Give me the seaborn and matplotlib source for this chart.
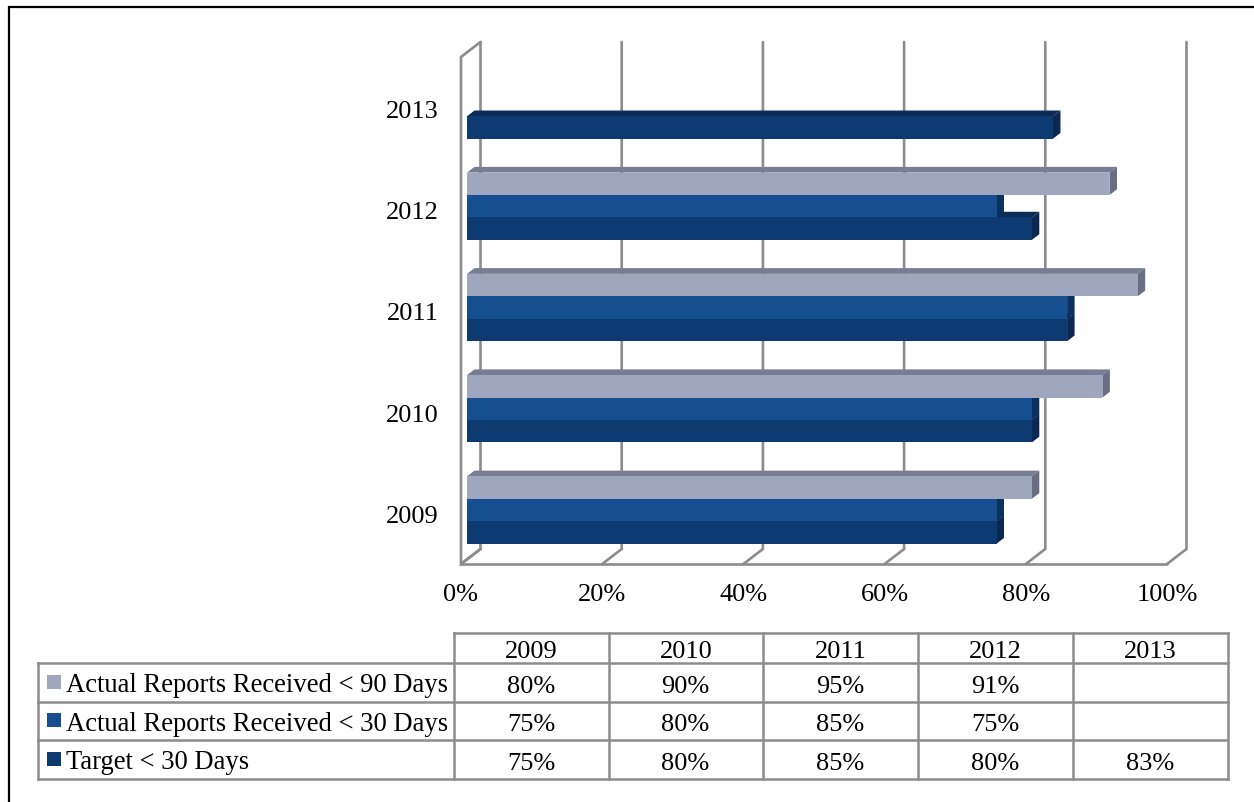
import matplotlib
matplotlib.use("Agg")
import matplotlib.pyplot as plt
from matplotlib.patches import Polygon, Rectangle
from matplotlib.transforms import ScaledTranslation
import numpy as np
import pandas as pd
import seaborn as sns

years = ["2009", "2010", "2011", "2012", "2013"]
series = ["Actual Reports Received < 90 Days", "Actual Reports Received < 30 Days", "Target < 30 Days"]
actual_90 = [80, 90, 95, 91, np.nan]
actual_30 = [75, 80, 85, 75, np.nan]
target_30 = [75, 80, 85, 80, 83]
xticks = [0, 20, 40, 60, 80, 100]

front = ["#9FA7BF", "#164F8F", "#0E3A72"]
top_face = ["#797D93", "#0F3766", "#0C2C57"]
side_face = ["#6A6E84", "#0D315E", "#0A2850"]
GREY = "#8C8C8C"

W, H = 1254, 803

sns.set_theme(style="white")
plt.rcParams["font.family"] = ["Liberation Serif", "DejaVu Serif"]
FS = 19
FS_LEGEND = 19.15

df = pd.DataFrame({"year": years * 3,
                   "series": np.repeat(series, 5),
                   "value": actual_90 + actual_30 + target_30}).dropna()

fig = plt.figure(figsize=(W / 100, H / 100), dpi=100)

# overlay in pixels for page border and the data table
page = fig.add_axes([0, 0, 1, 1], zorder=0)
page.set_xlim(0, W)
page.set_ylim(H, 0)
page.axis("off")

# chart axes: 0-100 from px 467 to 1173, plane from px 43 to 565
left, right, top, bottom = 467, 1173, 43, 565
ax = fig.add_axes([left / W, 1 - bottom / H, (right - left) / W, (bottom - top) / H], zorder=1)
ax.patch.set_alpha(0)

sns.barplot(data=df, x="value", y="year", hue="series", order=years[::-1], hue_order=series,
            palette=front, saturation=1, width=0.665, gap=0, orient="h",
            errorbar=None, legend=False, ax=ax)

unit = 101.25  # px per category
ax.set_xlim(0, 100)
ax.set_ylim(4 + (565 - 511) / unit, -(106 - 43) / unit)
sx = (right - left) / 100

# bars get a top and a side face, upper bars sit in front of the lower ones
dx, dy = 7.5 / sx, 5.7 / unit
for k, cont in enumerate(ax.containers):
    z = 7 - k
    for p in cont:
        if not np.isfinite(p.get_width()) or p.get_width() == 0:
            continue
        x1 = p.get_x() + p.get_width()
        y0, y1 = p.get_y(), p.get_y() + p.get_height()
        p.set_linewidth(0)
        p.set_zorder(z + 0.5)
        ax.add_patch(Polygon([(0, y0), (dx, y0 - dy), (x1 + dx, y0 - dy), (x1, y0)],
                             fc=top_face[k], ec="none", zorder=z, clip_on=False))
        ax.add_patch(Polygon([(x1, y0), (x1 + dx, y0 - dy), (x1 + dx, y1 - dy), (x1, y1)],
                             fc=side_face[k], ec="none", zorder=z, clip_on=False))

# back wall, floor and gridlines
back, fwd = 13.5 / sx, -6 / sx
wall = 15 / unit
y_top, y_bot = ax.get_ylim()[1], ax.get_ylim()[0]
line = dict(color=GREY, lw=1.9, clip_on=False, zorder=1, solid_joinstyle="miter")
for t in xticks:
    ax.plot([t + back, t + back, t + fwd], [y_top, y_bot - wall, y_bot], **line)
ax.plot([back, fwd, fwd, back], [y_top, y_top + wall, y_bot, y_bot - wall], **line)
ax.plot([fwd, 100 + fwd], [y_bot, y_bot], **line)
ax.set_xlim(0, 100)
ax.set_ylim(y_bot, y_top)

ax.grid(False)
sns.despine(ax=ax, left=True, bottom=True)
ax.set_xlabel("")
ax.set_ylabel("")
ax.set_xticks(xticks)
ax.set_xticklabels([f"{t}%" for t in xticks])
ax.tick_params(axis="x", length=0, pad=14, labelsize=FS, labelcolor="black")
ax.tick_params(axis="y", length=0, pad=20.2, labelsize=FS, labelcolor="black")
for lab in ax.get_xticklabels():
    lab.set_transform(lab.get_transform() + ScaledTranslation(-6 / 100, 0, fig.dpi_scale_trans))
for lab in ax.get_yticklabels():
    lab.set_transform(lab.get_transform() + ScaledTranslation(0, -3.5 / 100, fig.dpi_scale_trans))

# page border, open at right and bottom
page.plot([8.5, 8.5, W], [H, 7.5, 7.5], color="black", lw=1.6, solid_joinstyle="miter")

# data table
cols = [454, 609, 763, 918, 1073, 1228]
rows = [634, 664, 702.5, 741, 779.5]
tline = dict(color=GREY, lw=1.8, solid_capstyle="projecting")
page.plot([cols[0], cols[-1]], [rows[0], rows[0]], **tline)
for y in rows[1:]:
    page.plot([38, cols[-1]], [y, y], **tline)
page.plot([38, 38], [rows[1], rows[-1]], **tline)
for x in cols:
    page.plot([x, x], [rows[0], rows[-1]], **tline)

txt = dict(color="black", va="center_baseline")
for j, year in enumerate(years):
    page.text((cols[j] + cols[j + 1]) / 2, (rows[0] + rows[1]) / 2 + 1, year, ha="center", fontsize=FS, **txt)
for i, vals in enumerate([actual_90, actual_30, target_30]):
    yc = (rows[i + 1] + rows[i + 2]) / 2
    page.add_patch(Rectangle((47, yc - 7.5), 14, 14, fc=front[i], ec="none"))
    page.text(66, yc - 0.5, series[i], ha="left", fontsize=FS_LEGEND, **txt)
    for j, v in enumerate(vals):
        if np.isfinite(v):
            page.text((cols[j] + cols[j + 1]) / 2 - 0.5, yc + 1, f"{v:.0f}%", ha="center", fontsize=FS, **txt)

fig.savefig("out.png", dpi=100, facecolor="white")
